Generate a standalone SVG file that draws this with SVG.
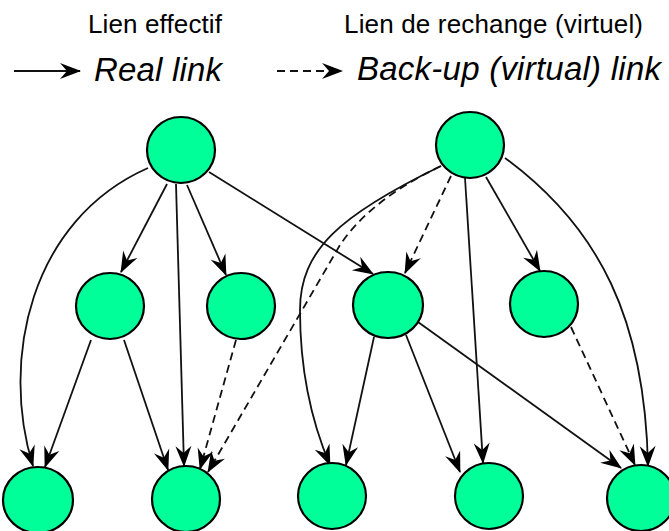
<svg xmlns="http://www.w3.org/2000/svg" width="669" height="531" viewBox="0 0 669 531">
<defs>
<marker id="arr" markerUnits="userSpaceOnUse" orient="auto" viewBox="-22 -10 24 20" markerWidth="24" markerHeight="20" refX="0" refY="0">
<path d="M1,0 L-20,-8 L-13,0 L-20,8 Z" fill="#000"/>
</marker>
</defs>
<style>
.node{fill:#00FF99;stroke:#000;stroke-width:2.2}
.e{fill:none;stroke:#111;stroke-width:1.8;marker-end:url(#arr)}
.d{stroke-dasharray:8 5}
.t1{font-family:"Liberation Sans",Arial,sans-serif;font-size:26px;fill:#000}
.t2{font-family:"Liberation Sans",Arial,sans-serif;font-size:33px;font-style:italic;fill:#000}
</style>
<rect width="669" height="531" fill="#fff"/>
<g id="legend">
<text class="t1" x="88" y="33" textLength="134">Lien effectif</text>
<text class="t1" x="344" y="33" textLength="299">Lien de rechange (virtuel)</text>
<path class="e" d="M14,71 L80,71"/>
<path class="e d" d="M277,71 L342,71"/>
<text class="t2" x="94" y="81" textLength="128">Real link</text>
<text class="t2" x="357" y="80" textLength="304">Back-up (virtual) link</text>
</g>
<g id="connectors">
<path class="e" d="M148,168 C30,220 0,360 33,466"/>
<path class="e" d="M167,184 L121,272"/>
<path class="e" d="M176,184 L184,466"/>
<path class="e" d="M187,185 L226,275"/>
<path class="e" d="M209,172 L373,274"/>
<path class="e" d="M486,177 L540,271"/>
<path class="e" d="M465,178 L483,463"/>
<path class="e" d="M505,158 C600,228 645,320 648,466"/>
<path class="e d" d="M451,176 L405,273"/>
<path class="e" d="M441,166 C340,215 300,250 300,310 C300,380 315,430 330,465"/>
<path class="e d" d="M441,166 Q370,200 340,245 L208,472"/>
<path class="e d" d="M236,340 L200,469"/>
<path class="e" d="M91,340 L45,467"/>
<path class="e" d="M124,340 L168,470"/>
<path class="e" d="M374,337 L346,465"/>
<path class="e" d="M406,335 L460,472"/>
<path class="e" d="M418,322 L621,468"/>
<path class="e d" d="M571,327 L635,465"/>
</g>
<g id="n1"><ellipse class="node" cx="181" cy="150" rx="34" ry="33"/></g>
<g id="n2"><ellipse class="node" cx="470" cy="145" rx="34" ry="33"/></g>
<g id="n3"><ellipse class="node" cx="110" cy="306" rx="34" ry="33"/></g>
<g id="n4"><ellipse class="node" cx="241" cy="306" rx="34" ry="33"/></g>
<g id="n5"><ellipse class="node" cx="388" cy="305" rx="35" ry="33"/></g>
<g id="n6"><ellipse class="node" cx="544" cy="304" rx="34" ry="33"/></g>
<g id="n7"><ellipse class="node" cx="38" cy="500" rx="35" ry="33"/></g>
<g id="n8"><ellipse class="node" cx="186" cy="499" rx="34" ry="33"/></g>
<g id="n9"><ellipse class="node" cx="332" cy="496" rx="34" ry="33"/></g>
<g id="n10"><ellipse class="node" cx="489" cy="496" rx="34" ry="33"/></g>
<g id="n11"><ellipse class="node" cx="641" cy="498" rx="34" ry="33"/></g>
</svg>
